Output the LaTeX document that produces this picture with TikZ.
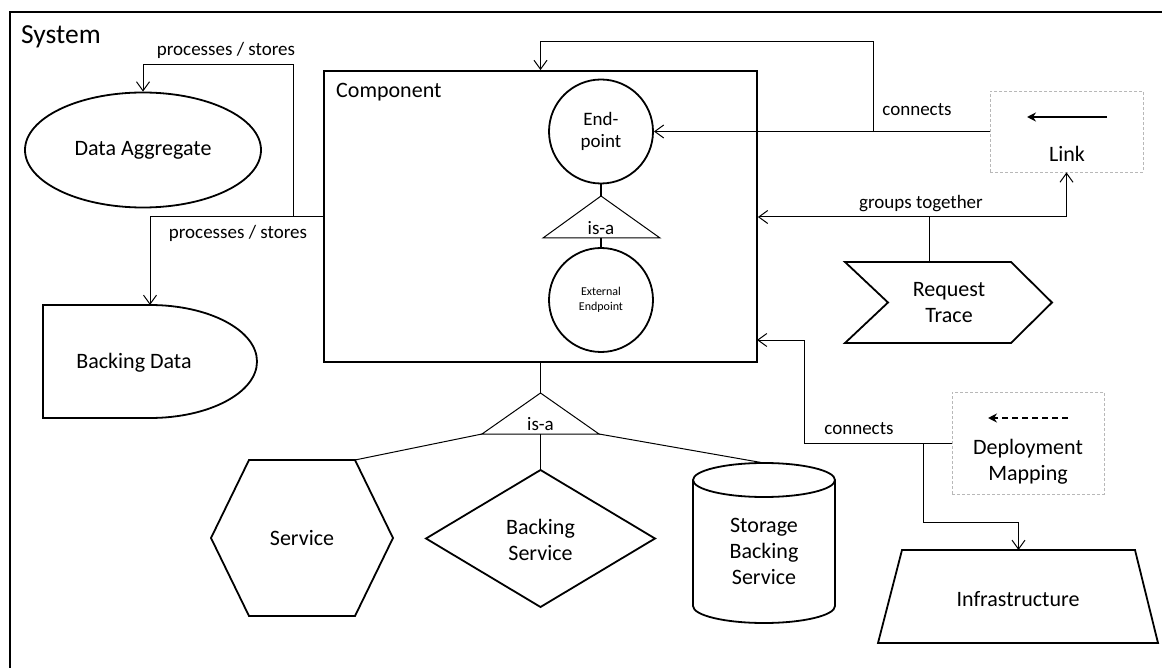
\documentclass[tikz,border=0pt]{standalone}
\usepackage{fontspec}
\setmainfont{Carlito}
\usetikzlibrary{arrows.meta,shapes.geometric}
\begin{document}
\begin{tikzpicture}[x=1pt,y=-1pt,
  shp/.style={draw=black,line width=1.8pt},
  tshp/.style={draw=black,line width=1pt},
  conn/.style={draw=black,line width=1pt},
  arr/.style={-{Straight Barb[length=9pt,width=13pt]}},
  lbl/.style={font=\fontsize{19}{22}\selectfont,inner sep=0pt},
  big/.style={font=\fontsize{22}{26}\selectfont,align=center,inner sep=0pt},
  dbox/.style={draw=black!28,line width=0.8pt,dash pattern=on 3pt off 2pt}
]
\clip (0,0) rectangle (1162,668);
\fill[white] (0,0) rectangle (1162,668);
% system frame
\draw[line width=2pt] (10,12) rectangle (1180,690);
\node[anchor=west,inner sep=0pt,font=\fontsize{27.5}{32}\selectfont] (sys) at (21,37) {System};

% component
\node[shp,rectangle,minimum width=433pt,minimum height=291pt,inner sep=0pt] (comp) at (540.5,216.5) {};
\node[anchor=west,big] (complbl) at (336,92) {Component};
\node[shp,circle,minimum size=104pt,inner sep=0pt,font=\fontsize{19}{22}\selectfont,align=center] (ep) at (601,131.5) {End-\\point};
\path[tshp] (601,196) coordinate (ta1) -- (660,238) -- (543,238) -- cycle;
\coordinate (tb1) at (601,238);
\node[lbl] (isa1) at (601,228) {is-a};
\node[shp,circle,minimum size=104pt,inner sep=0pt,font=\fontsize{12}{15}\selectfont,align=center] (eep) at (601,300) {External\\Endpoint};
\draw[shp] (ep.south) -- (ta1);
\draw[shp] (tb1) -- (eep.north);

% data aggregate
\node[shp,ellipse,minimum width=236pt,minimum height=115pt,inner sep=0pt,big] (da) at (143,150) {Data Aggregate};

% backing data
\path[shp] (150,305) coordinate (bdtop) -- (43,305) -- (43,418) -- (150,418) arc[start angle=-90,end angle=90,x radius=107pt,y radius=56.5pt];
\node[big] (bd) at (134,363) {Backing Data};

% processes / stores connectors
\coordinate (j1) at (293,216.5);
\coordinate (j2) at (150,216.5);
\coordinate (k1) at (143,65);
\draw[conn] (comp.west) -- (j2);
\draw[conn,arr] (j2) -- (bdtop);
\draw[conn,arr] (j1) |- (k1) -- (da.north);
\node[lbl] (ps1) at (226,50) {processes / stores};
\node[lbl] (ps2) at (238,233) {processes / stores};

% link
\node[dbox,rectangle,minimum width=153pt,minimum height=81pt,inner sep=0pt] (link) at (1066.5,131.5) {};
\node[big] (linklbl) at (1067,154) {Link};
\coordinate (la1) at (1107,117);
\coordinate (la2) at (1027,117);
\draw[line width=1.5pt,-{Stealth[length=9pt,width=9pt]}] (la1) -- (la2);
\coordinate (j3) at (873,131.5);
\coordinate (k3) at (540.5,42);
\draw[conn,arr] (link.west) -- (ep.east);
\draw[conn,arr] (j3) |- (k3) -- (comp.north);
\node[lbl] (con1) at (917,110) {connects};

% request trace
\path[shp] (845,262) -- (1011,262) -- (1052,302.5) -- (1011,343) -- (845,343) -- (888,302.5) -- cycle;
\node[big] (rt) at (949,303) {Request\\Trace};
\coordinate (rttop) at (929,262);
\coordinate (jg) at (929,217);
\draw[conn] (rttop) -- (jg);
\draw[conn,arr] (jg) -- (comp.east |- jg);
\draw[conn,arr] (jg) -| (link.south);
\node[lbl] (grp) at (921,204) {groups together};

% deployment mapping
\node[dbox,rectangle,minimum width=152pt,minimum height=102pt,inner sep=0pt] (dm) at (1028,443) {};
\node[big] (dmlbl) at (1028,462) {Deployment\\Mapping};
\coordinate (da1) at (1068,418);
\coordinate (da2) at (988,418);
\draw[line width=1.5pt,dash pattern=on 6pt off 4pt,-{Stealth[length=9pt,width=9pt]}] (da1) -- (da2);
\coordinate (k4) at (804,443);
\coordinate (k5) at (804,340);
\coordinate (ce) at (757,340);
\draw[conn,arr] (dm.west) -- (k4) -- (k5) -- (ce);
\node[lbl] (con2) at (859,429) {connects};

% infrastructure
\path[shp] (902,550) -- (1135,550) -- (1158,643) -- (878,643) -- cycle;
\coordinate (inftop) at (1018.5,550);
\node[big] (inf) at (1018,599) {Infrastructure};
\coordinate (j4) at (923,443);
\coordinate (k6) at (923,522);
\draw[conn,arr] (j4) -- (k6) -| (inftop);

% lower is-a
\coordinate (ta2) at (540.5,393);
\coordinate (tb2) at (540.5,434);
\coordinate (tl2) at (482,434);
\coordinate (tr2) at (599,434);
\draw[shp] (comp.south) -- (ta2);
\path[tshp] (ta2) -- (tr2) -- (tl2) -- cycle;
\node[lbl] (isa2) at (540.5,424) {is-a};

% service hexagon
\path[shp] (249,460) -- (355,460) coordinate (hextr) -- (393,538) -- (355,616) -- (249,616) -- (211,538) -- cycle;
\node[big] (svc) at (302,538) {Service};

% backing service diamond
\path[shp] (540.5,470) coordinate (dtop) -- (655,538.5) -- (540.5,607) -- (426,538.5) -- cycle;
\node[big] (bs) at (540.5,540) {Backing\\Service};

% storage cylinder
\path[shp] (693,480) -- (693,606) arc[start angle=180,end angle=360,x radius=71pt,y radius=17pt] -- (835,480);
\draw[shp] (764,480) ellipse [x radius=71pt,y radius=17pt];
\coordinate (cyltop) at (764,463);
\node[big] (sbs) at (764,551) {Storage\\Backing\\Service};

\draw[shp] (tb2) -- (dtop);
\draw[conn] (tl2) -- (hextr);
\draw[conn] (tr2) -- (cyltop);
\end{tikzpicture}
\end{document}
